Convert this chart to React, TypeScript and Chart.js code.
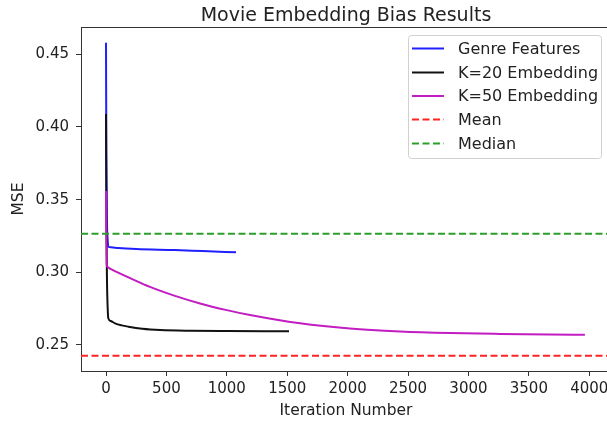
import React, { useEffect, useRef } from "react";
import { Chart, registerables } from "chart.js";

Chart.register(...registerables);

const TITLE = "Movie Embedding Bias Results";
const X_LABEL = "Iteration Number";
const Y_LABEL = "MSE";

const X_MIN = -207;
const X_MAX = 4180;
const Y_MIN = 0.2321;
const Y_MAX = 0.4688;
const X_TICKS = [0, 500, 1000, 1500, 2000, 2500, 3000, 3500, 4000];
const Y_TICKS = [0.25, 0.3, 0.35, 0.4, 0.45];

const GENRE_X = [0, 3, 8, 14, 20, 40, 100, 250, 571, 800, 1076];
const GENRE_Y = [0.458, 0.38, 0.335, 0.322, 0.3176, 0.3172, 0.3167, 0.316, 0.3153, 0.3146, 0.3138];

const K20_X = [0, 3, 8, 14, 19, 40, 75, 130, 185, 300, 450, 700, 1000, 1515];
const K20_Y = [0.409, 0.34, 0.295, 0.275, 0.2684, 0.2665, 0.2649, 0.2635, 0.2626, 0.2612, 0.2603, 0.2598, 0.2596, 0.2595];

const K50_X = [0, 3, 6, 15, 33, 100, 200, 364, 571, 778, 1000, 1192, 1606, 2019, 2433, 2847, 3261, 3675, 3964];
const K50_Y = [0.356, 0.325, 0.305, 0.3035, 0.3025, 0.2998, 0.296, 0.29, 0.2838, 0.2786, 0.274, 0.2706, 0.2649, 0.2613, 0.2593, 0.2582, 0.2576, 0.2572, 0.257];

const MEAN = 0.2426;
const MEDIAN = 0.3265;

const LABELS = ["Genre Features", "K=20 Embedding", "K=50 Embedding", "Mean", "Median"];
const COLORS = ["#1f1fff", "#111111", "#c21cc2", "#ff2424", "#2a9f2a"];

const FONT = "'DejaVu Sans', sans-serif";
const TEXT = "#222222";
const FRAME = "#333333";
const DASH = [7, 3.5];

const zip = (xs: number[], ys: number[]) => xs.map((x, i) => ({ x, y: ys[i] }));

const overlay = {
  id: "overlay",
  afterDraw(chart: any) {
    const ctx = chart.ctx as CanvasRenderingContext2D;
    const a = chart.chartArea;
    ctx.save();
    ctx.strokeStyle = FRAME;
    ctx.lineWidth = 1;
    ctx.beginPath();
    ctx.moveTo(a.left, Math.round(a.top) + 0.5);
    ctx.lineTo(a.right, Math.round(a.top) + 0.5);
    ctx.moveTo(Math.round(a.right) - 0.5, a.top);
    ctx.lineTo(Math.round(a.right) - 0.5, a.bottom);
    ctx.stroke();

    const cx = (a.left + a.right) / 2;
    ctx.fillStyle = TEXT;
    ctx.textAlign = "center";
    ctx.textBaseline = "alphabetic";
    ctx.font = `19px ${FONT}`;
    ctx.fillText(TITLE, cx, 21);

    ctx.font = `15.5px ${FONT}`;
    ctx.textBaseline = "middle";
    ctx.fillText(X_LABEL, cx, 411);

    ctx.save();
    ctx.translate(19, (a.top + a.bottom) / 2);
    ctx.rotate(-Math.PI / 2);
    ctx.fillText(Y_LABEL, 0, 0);
    ctx.restore();

    const bx = 408.5, by = 35.5, bw = 193, bh = 123, r = 3;
    ctx.beginPath();
    ctx.moveTo(bx + r, by);
    ctx.arcTo(bx + bw, by, bx + bw, by + bh, r);
    ctx.arcTo(bx + bw, by + bh, bx, by + bh, r);
    ctx.arcTo(bx, by + bh, bx, by, r);
    ctx.arcTo(bx, by, bx + bw, by, r);
    ctx.closePath();
    ctx.fillStyle = "rgba(255,255,255,0.85)";
    ctx.fill();
    ctx.strokeStyle = "#d0d0d0";
    ctx.lineWidth = 1;
    ctx.stroke();

    const rowY = [48.5, 72.5, 96, 119.5, 143.5];
    ctx.font = `16px ${FONT}`;
    ctx.textAlign = "left";
    ctx.textBaseline = "middle";
    LABELS.forEach((lab, i) => {
      ctx.strokeStyle = COLORS[i];
      ctx.lineWidth = 2;
      ctx.setLineDash(i >= 3 ? DASH : []);
      ctx.beginPath();
      ctx.moveTo(412, rowY[i]);
      ctx.lineTo(444, rowY[i]);
      ctx.stroke();
      ctx.setLineDash([]);
      ctx.fillStyle = TEXT;
      ctx.fillText(lab, 458, rowY[i] + 1);
    });
    ctx.restore();
  },
};

export default function App() {
  const ref = useRef<HTMLCanvasElement | null>(null);

  useEffect(() => {
    document.body.style.margin = "0";
    document.body.style.overflow = "hidden";
    const canvas = ref.current;
    if (!canvas) return;
    const line = (i: number, data: any[], dashed: boolean) => ({
      label: LABELS[i],
      data,
      borderColor: COLORS[i],
      backgroundColor: COLORS[i],
      borderWidth: 2,
      borderDash: dashed ? DASH : [],
      pointRadius: 0,
      fill: false,
      tension: 0,
      cubicInterpolationMode: dashed ? "default" : "monotone",
      order: 5 - i,
    });
    const chart = new Chart(canvas, {
      type: "line",
      data: {
        datasets: [
          line(0, zip(GENRE_X, GENRE_Y), false),
          line(1, zip(K20_X, K20_Y), false),
          line(2, zip(K50_X, K50_Y), false),
          line(3, [{ x: X_MIN, y: MEAN }, { x: X_MAX, y: MEAN }], true),
          line(4, [{ x: X_MIN, y: MEDIAN }, { x: X_MAX, y: MEDIAN }], true),
        ] as any,
      },
      options: {
        responsive: false,
        animation: false,
        devicePixelRatio: 1,
        layout: { padding: { left: 0, top: 27, right: 4, bottom: 0 } },
        plugins: { legend: { display: false }, title: { display: false }, tooltip: { enabled: false } },
        scales: {
          x: {
            type: "linear",
            min: X_MIN,
            max: X_MAX,
            afterFit: (s: any) => { s.height = 52; },
            afterBuildTicks: (s: any) => { s.ticks = X_TICKS.map((v) => ({ value: v })); },
            grid: { display: true, drawOnChartArea: false, drawTicks: true, tickLength: 5, tickColor: FRAME, tickWidth: 1 },
            border: { display: true, color: FRAME, width: 1 },
            ticks: {
              padding: 4,
              color: TEXT,
              font: { family: FONT, size: 15 },
              maxRotation: 0,
              autoSkip: false,
              callback: (v: any) => String(v),
            },
          },
          y: {
            type: "linear",
            min: Y_MIN,
            max: Y_MAX,
            afterFit: (s: any) => { s.width = 81; },
            afterBuildTicks: (s: any) => { s.ticks = Y_TICKS.map((v) => ({ value: v })); },
            grid: { display: true, drawOnChartArea: false, drawTicks: true, tickLength: 5, tickColor: FRAME, tickWidth: 1 },
            border: { display: true, color: FRAME, width: 1 },
            ticks: {
              padding: 7,
              color: TEXT,
              font: { family: FONT, size: 15 },
              autoSkip: false,
              callback: (v: any) => Number(v).toFixed(2),
            },
          },
        },
      } as any,
      plugins: [overlay],
    });
    return () => chart.destroy();
  }, []);

  return (
    <div style={{ width: 607, height: 423, overflow: "hidden" }}>
      <canvas ref={ref} width={615} height={423} style={{ display: "block" }} />
    </div>
  );
}
